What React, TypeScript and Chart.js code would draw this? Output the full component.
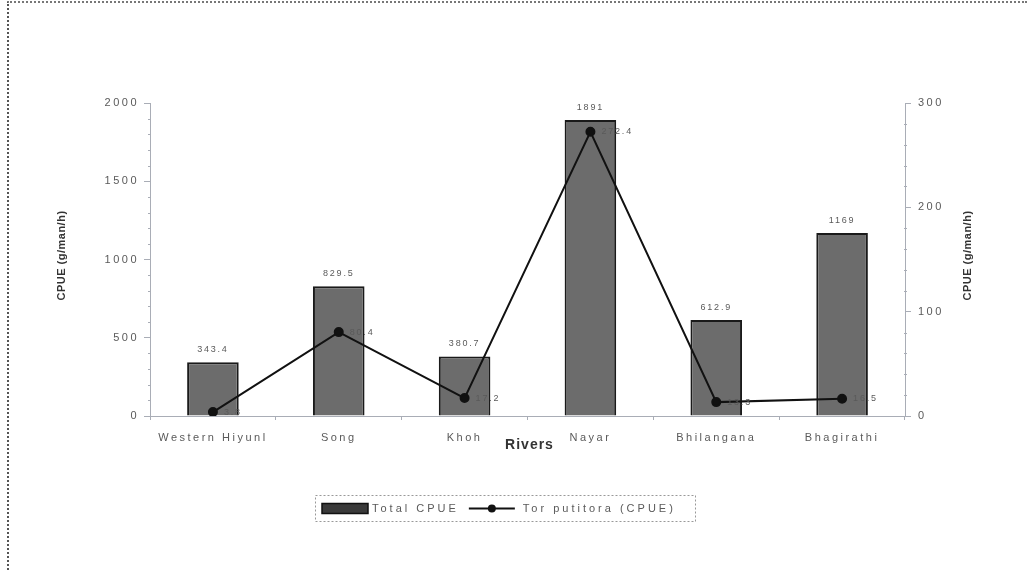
import React, { useEffect, useRef } from "react";
import { Chart, registerables } from "chart.js";

Chart.register(...registerables);

const categories = ["Western Hiyunl", "Song", "Khoh", "Nayar", "Bhilangana", "Bhagirathi"];
const totalCPUE = [343.4, 829.5, 380.7, 1891, 612.9, 1169];
const torCPUE = [3.8, 80.4, 17.2, 272.4, 13.3, 16.5];
const leftTicks = [0, 500, 1000, 1500, 2000];
const rightTicks = [0, 100, 200, 300];
const seriesNames = ["Total CPUE", "Tor putitora (CPUE)"];
const xTitle = "Rivers";
const yTitle = "CPUE (g/man/h)";

const FONT = "'Liberation Sans', Arial, sans-serif";
const TEXT = "#5a5a5a";
const AXIS = "#a9adb6";

const decorPlugin = {
  id: "decor",
  beforeDraw(chart: any) {
    chart.ctx.letterSpacing = "2.5px";
  },
  afterDatasetsDraw(chart: any) {
    const ctx = chart.ctx;
    ctx.save();
    ctx.letterSpacing = "1.8px";
    ctx.fillStyle = TEXT;
    ctx.font = `9px ${FONT}`;
    const barMeta = chart.getDatasetMeta(0);
    barMeta.data.forEach((el: any, i: number) => {
      ctx.textAlign = "center";
      ctx.textBaseline = "bottom";
      ctx.fillText(String(totalCPUE[i]), el.x, el.y - 8);
    });
    const lineMeta = chart.getDatasetMeta(1);
    lineMeta.data.forEach((el: any, i: number) => {
      ctx.textAlign = "left";
      ctx.textBaseline = "middle";
      ctx.fillText(torCPUE[i].toFixed(1), el.x + 11, el.y);
    });
    ctx.restore();
  },
  afterDraw(chart: any) {
    const ctx = chart.ctx;
    const area = chart.chartArea;
    const yL = chart.scales.y;
    const yR = chart.scales.y1;
    ctx.save();
    ctx.strokeStyle = AXIS;
    ctx.lineWidth = 1;
    for (let v = 0; v <= 2000; v += 100) {
      if (v % 500 === 0) continue;
      const py = Math.round(yL.getPixelForValue(v)) + 0.5;
      ctx.beginPath();
      ctx.moveTo(area.left - 2, py);
      ctx.lineTo(area.left + 1, py);
      ctx.stroke();
    }
    for (let v = 0; v <= 300; v += 20) {
      if (v % 100 === 0) continue;
      const py = Math.round(yR.getPixelForValue(v)) + 0.5;
      ctx.beginPath();
      ctx.moveTo(area.right - 1, py);
      ctx.lineTo(area.right + 2, py);
      ctx.stroke();
    }
    ctx.fillStyle = "#333";
    ctx.letterSpacing = "0.5px";
    ctx.font = `bold 11px ${FONT}`;
    const midY = (area.top + area.bottom) / 2 - 4;
    [62, 968].forEach((x) => {
      ctx.save();
      ctx.translate(x, midY);
      ctx.rotate(-Math.PI / 2);
      ctx.textAlign = "center";
      ctx.textBaseline = "middle";
      ctx.fillText(yTitle, 0, 0);
      ctx.restore();
    });
    ctx.font = `bold 14px ${FONT}`;
    ctx.letterSpacing = "1px";
    ctx.textAlign = "center";
    ctx.textBaseline = "middle";
    ctx.fillText(xTitle, (area.left + area.right) / 2 + 2, area.bottom + 29);

    ctx.font = `11px ${FONT}`;
    ctx.letterSpacing = "3px";
    const w1 = ctx.measureText(seriesNames[0]).width;
    const w2 = ctx.measureText(seriesNames[1]).width;
    const sw = 46;
    const lw = 46;
    const pad = 7;
    const total = pad + sw + 4 + w1 + 10 + lw + 8 + w2 + 6;
    const lx = 315;
    const ly = area.bottom + 79;
    const lh = 26;
    ctx.setLineDash([2, 2]);
    ctx.strokeStyle = "#999";
    ctx.lineWidth = 1;
    ctx.strokeRect(lx + 0.5, ly + 0.5, Math.max(total, 380), lh);
    ctx.setLineDash([]);
    const cy = ly + lh / 2 + 0.5;
    let x = lx + pad;
    ctx.fillStyle = "#3a3a3a";
    ctx.fillRect(x, cy - 5, sw, 10);
    ctx.strokeStyle = "#111";
    ctx.lineWidth = 1.5;
    ctx.strokeRect(x, cy - 5, sw, 10);
    x += sw + 4;
    ctx.fillStyle = TEXT;
    ctx.textAlign = "left";
    ctx.fillText(seriesNames[0], x, cy);
    x += w1 + 10;
    ctx.strokeStyle = "#111";
    ctx.lineWidth = 2;
    ctx.beginPath();
    ctx.moveTo(x, cy);
    ctx.lineTo(x + lw, cy);
    ctx.stroke();
    ctx.fillStyle = "#111";
    ctx.beginPath();
    ctx.arc(x + lw / 2, cy, 4, 0, Math.PI * 2);
    ctx.fill();
    x += lw + 8;
    ctx.fillStyle = TEXT;
    ctx.fillText(seriesNames[1], x, cy);
    ctx.restore();
    ctx.letterSpacing = "0px";
  },
};

export default function App() {
  const ref = useRef<HTMLCanvasElement>(null);
  useEffect(() => {
    document.body.style.margin = "0";
    const chart = new Chart(ref.current as HTMLCanvasElement, {
      type: "bar",
      data: {
        labels: categories,
        datasets: [
          {
            type: "bar",
            label: seriesNames[0],
            data: totalCPUE,
            yAxisID: "y",
            backgroundColor: "#6c6c6c",
            borderColor: "#1a1a1a",
            borderWidth: 2,
            barPercentage: 0.82,
            categoryPercentage: 0.5,
            order: 2,
          },
          {
            type: "line",
            label: seriesNames[1],
            data: torCPUE,
            yAxisID: "y1",
            borderColor: "#111",
            backgroundColor: "#111",
            borderWidth: 2,
            pointRadius: 4,
            pointBackgroundColor: "#111",
            tension: 0,
            order: 1,
          },
        ],
      } as any,
      options: {
        animation: false,
        responsive: false,
        devicePixelRatio: 1,
        layout: { padding: { top: 103, bottom: 78, left: 0, right: 0 } },
        plugins: { legend: { display: false }, tooltip: { enabled: false } },
        scales: {
          x: {
            offset: true,
            grid: { drawOnChartArea: false, drawTicks: true, tickLength: 4, color: AXIS, offset: true },
            border: { color: AXIS, width: 1 },
            ticks: { color: TEXT, font: { family: FONT, size: 11 }, padding: 11, maxRotation: 0 },
            afterFit(scale: any) {
              scale.height = 76;
            },
          },
          y: {
            position: "left",
            min: 0,
            max: 2000,
            afterBuildTicks(scale: any) {
              scale.ticks = leftTicks.map((v) => ({ value: v }));
            },
            grid: { drawOnChartArea: false, drawTicks: true, tickLength: 6, color: AXIS },
            border: { color: AXIS, width: 1 },
            ticks: {
              color: TEXT,
              font: { family: FONT, size: 11 },
              padding: 5,
              callback: (v: any) => String(v),
            },
            afterFit(scale: any) {
              scale.width = 150;
            },
          },
          y1: {
            position: "right",
            min: 0,
            max: 300,
            afterBuildTicks(scale: any) {
              scale.ticks = rightTicks.map((v) => ({ value: v }));
            },
            grid: { drawOnChartArea: false, drawTicks: true, tickLength: 6, color: AXIS },
            border: { color: AXIS, width: 1 },
            ticks: {
              color: TEXT,
              font: { family: FONT, size: 11 },
              padding: 7,
              callback: (v: any) => String(v),
            },
            afterFit(scale: any) {
              scale.width = 122;
            },
          },
        },
      } as any,
      plugins: [decorPlugin],
    });
    return () => chart.destroy();
  }, []);
  return (
    <div
      style={{
        position: "absolute",
        left: 0,
        top: 0,
        width: 1027,
        height: 570,
        background: "#fff",
      }}
    >
      <canvas ref={ref} width={1027} height={570} style={{ display: "block" }} />
      <div
        style={{
          position: "absolute",
          left: 7,
          top: 1,
          width: 1020,
          height: 569,
          borderLeft: "2px dotted #555",
          borderTop: "2px dotted #777",
          pointerEvents: "none",
          boxSizing: "border-box",
        }}
      />
    </div>
  );
}
